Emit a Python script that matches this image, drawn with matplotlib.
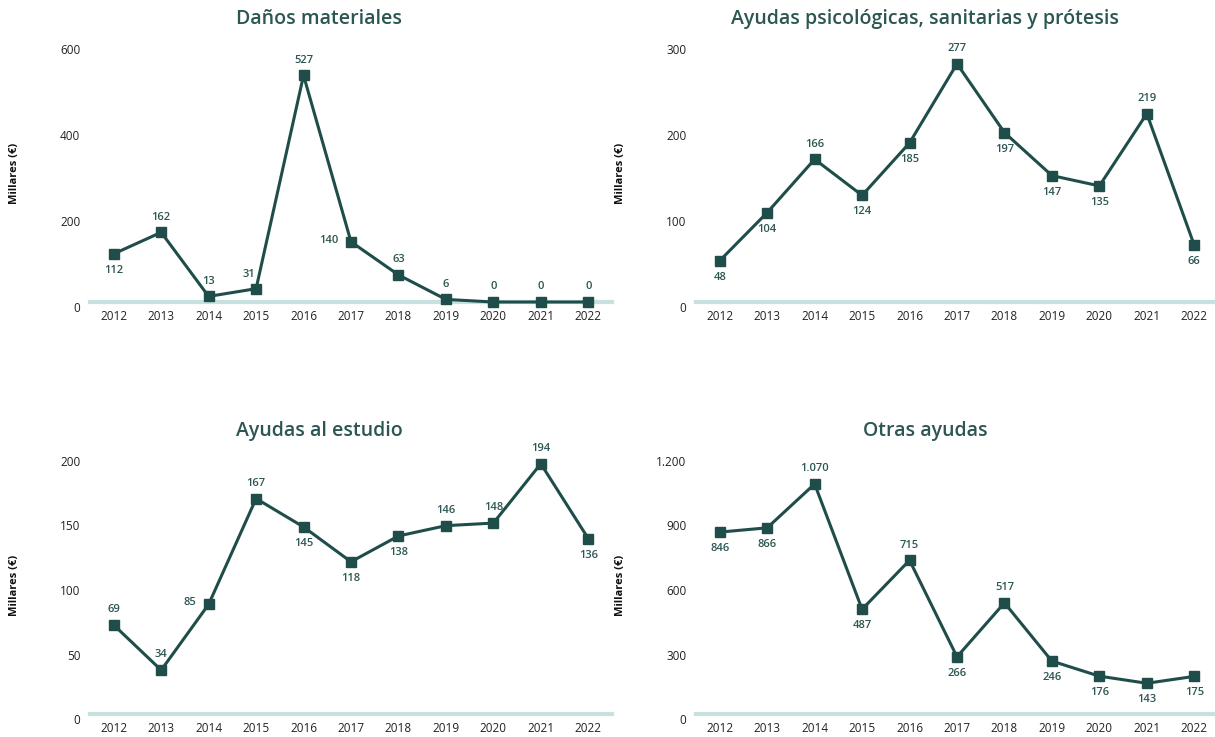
import matplotlib
matplotlib.use("Agg")
import matplotlib.pyplot as plt
import matplotlib.transforms as mtransforms
from matplotlib.ticker import FuncFormatter

plt.rcParams["font.family"] = ["Open Sans", "DejaVu Sans"]

years = [2012, 2013, 2014, 2015, 2016, 2017, 2018, 2019, 2020, 2021, 2022]

danos = [112, 162, 13, 31, 527, 140, 63, 6, 0, 0, 0]
psico = [48, 104, 166, 124, 185, 277, 197, 147, 135, 219, 66]
estudio = [69, 34, 85, 167, 145, 118, 138, 146, 148, 194, 136]
otras = [846, 866, 1070, 487, 715, 266, 517, 246, 176, 143, 175]

# where each value label sits relative to its point:
# a = above, al = above-left, b = below, l = left
pos_danos = ["b", "a", "a", "al", "a", "l", "a", "a", "a", "a", "a"]
pos_psico = ["b", "b", "a", "b", "b", "a", "b", "b", "b", "a", "b"]
pos_estudio = ["a", "a", "l", "a", "b", "b", "b", "a", "a", "a", "b"]
pos_otras = ["b", "b", "a", "b", "a", "b", "a", "b", "b", "b", "b"]

ticks_danos = [0, 200, 400, 600]
ticks_psico = [0, 100, 200, 300]
ticks_estudio = [0, 50, 100, 150, 200]
ticks_otras = [0, 300, 600, 900, 1200]

LINE = "#1f4d4a"
TEXT = "#2b5652"
BASE = "#c6e1e0"

W, H = 1215, 737
fig = plt.figure(figsize=(W / 100, H / 100), dpi=100)


def miles(v, pos=None):
    return f"{int(v):,}".replace(",", ".")


def panel(left_px, base_px, title, values, labels_pos, ticks):
    ax = fig.add_axes([left_px / W, (H - base_px) / H, 522 / W, 258 / H])
    ax.set_xlim(2011.5, 2022.5)
    ax.set_ylim(0, ticks[-1])
    ax.axhline(0, color=BASE, lw=3, zorder=1, clip_on=False)
    ax.plot(years, values, color=LINE, lw=2.2, marker="s", markersize=7,
            zorder=3, clip_on=False)

    for x, v, p in zip(years, values, labels_pos):
        if p == "a":
            off, ha, va = (0, 7), "center", "bottom"
        elif p == "al":
            off, ha, va = (-5, 6), "center", "bottom"
        elif p == "b":
            off, ha, va = (0, -8), "center", "top"
        else:
            off, ha, va = (-9, 1), "right", "center"
        ax.annotate(miles(v), (x, v), xytext=off, textcoords="offset points",
                    ha=ha, va=va, fontsize=8, color=TEXT, fontweight="semibold")

    for s in ax.spines.values():
        s.set_visible(False)
    ax.set_xticks(years)
    ax.set_yticks(ticks)
    ax.yaxis.set_major_formatter(FuncFormatter(miles))
    ax.tick_params(length=0, labelsize=8.5, colors="#222222")
    ax.tick_params(axis="x", pad=6)
    ax.tick_params(axis="y", pad=7)
    shift = mtransforms.ScaledTranslation(0, -0.05, fig.dpi_scale_trans)
    for lab in ax.get_yticklabels():
        lab.set_transform(lab.get_transform() + shift)

    # title and axis label
    fig.text((left_px + 229) / W, 1 - (base_px - 283) / H, title,
             ha="center", va="center", fontsize=14, color=TEXT,
             fontweight="semibold")
    fig.text((left_px - 75) / W, 1 - (base_px - 129) / H, "Millares (€)",
             rotation=90, ha="center", va="center", fontsize=8,
             fontweight="bold", color="#111111")
    return ax


panel(90, 302, "Daños materiales", danos, pos_danos, ticks_danos)
panel(696, 302, "Ayudas psicológicas, sanitarias y prótesis", psico, pos_psico, ticks_psico)
panel(90, 714, "Ayudas al estudio", estudio, pos_estudio, ticks_estudio)
panel(696, 714, "Otras ayudas", otras, pos_otras, ticks_otras)

fig.savefig("out.png", dpi=100)
